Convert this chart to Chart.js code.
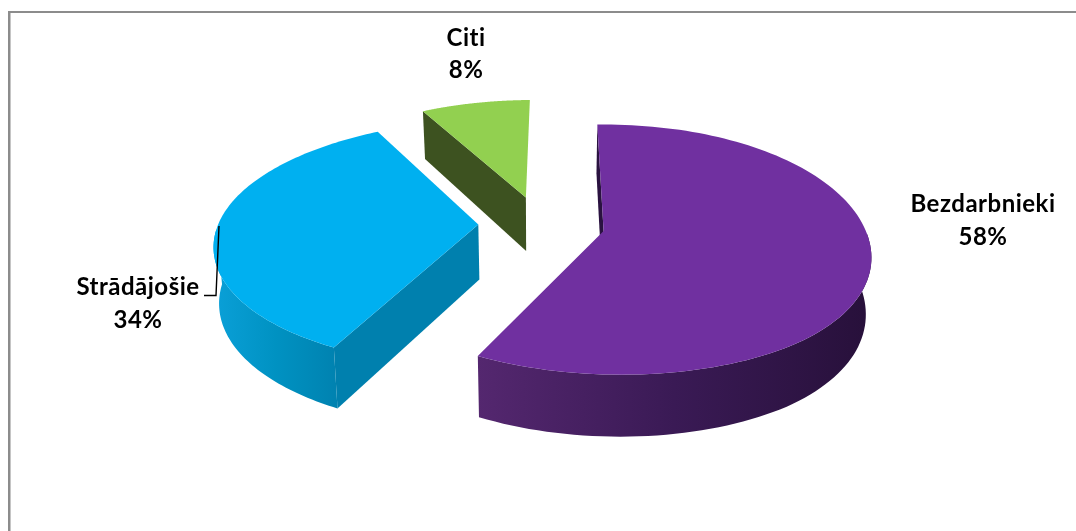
<!DOCTYPE html>
<html><head><meta charset="utf-8">
<style>html,body{margin:0;padding:0;background:#fff}canvas{display:block}</style>
<script src="https://cdn.jsdelivr.net/npm/chart.js@4/dist/chart.umd.min.js"></script>
</head><body><canvas id="c" width="1076" height="531"></canvas>
<script>
const categories = ["Bezdarbnieki", "Strādājošie", "Citi"];
const shares = [58, 34, 8];
const shareLabels = ["58%", "34%", "8%"];
const explode = [58, 57, 55];
const topColors = ["#7030A0", "#00B0F0", "#92D050"];
const faceColors = ["#2A1240", "#0080AE", "#3D5220"];
const wallStops = [
  ["#54276F", "#3A1A55", "#27103A"],
  ["#0AA0D8", "#0092C2", "#0082B0"],
  ["#5A7A30", "#4A6528", "#3D5220"]
];
const labelAnchors = [[983, 212, 245], [138, 295, 328], [466, 46, 78]];
const FONT = 'bold 24px Lato, "Open Sans", sans-serif';

// oblique-perspective view of the pie's plane
const view = {X0: 541, Y0: 224, A: 260, B: 123, px: 0.155, pyBack: 0.175, pyFront: 0.13, e: 8, D: 55, dk: 0.12, shrink: 0.017};
function project(u, v, z) {
  const py = v < 0 ? view.pyBack : view.pyFront;
  const x = view.X0 + view.A * u / (1 - view.px * v) * (1 - view.shrink * z) + view.e * Math.min(v * v, 0.77);
  const y = view.Y0 + view.B * v / (1 - py * v) + z * view.D * (1 + view.dk * v);
  return [x, y];
}
function trace(ctx, pts) {
  ctx.beginPath();
  pts.forEach((p, i) => i ? ctx.lineTo(p[0], p[1]) : ctx.moveTo(p[0], p[1]));
  ctx.closePath();
}
const pie3d = {
  id: 'pie3d',
  beforeDatasetDraw(chart, args) {
    const ctx = chart.ctx, arcs = chart.getDatasetMeta(args.index).data;
    for (let i = arcs.length - 1; i >= 0; i--) {
      const a = arcs[i], R = a.outerRadius, off = a.options.offset / R;
      const mid = (a.startAngle + a.endAngle) / 2;
      const cu = Math.cos(mid) * off, cv = Math.sin(mid) * off;
      const N = 120, rim = [], front = [];
      for (let k = 0; k <= N; k++) {
        const t = a.startAngle + (a.endAngle - a.startAngle) * k / N;
        rim.push([cu + Math.cos(t), cv + Math.sin(t)]);
        if (Math.sin(t) > 0.02) front.push(rim[k]);
      }
      const top = rim.map(p => project(p[0], p[1], 0));
      const bot = rim.map(p => project(p[0], p[1], 1));
      const apexT = project(cu, cv, 0), apexB = project(cu, cv, 1);
      // cut faces, only where they turn toward the viewer
      ctx.fillStyle = faceColors[i];
      if (-Math.cos(a.startAngle) > 0) { trace(ctx, [apexT, top[0], bot[0], apexB]); ctx.fill(); }
      if (Math.cos(a.endAngle) > 0) { trace(ctx, [apexT, top[N], bot[N], apexB]); ctx.fill(); }
      // outer wall, only where it faces the viewer
      if (front.length > 1) {
        const ft = front.map(p => project(p[0], p[1], 0));
        const fb = front.map(p => project(p[0], p[1], 1));
        const xs = ft.concat(fb).map(p => p[0]);
        const g = ctx.createLinearGradient(Math.min(...xs), 0, Math.max(...xs), 0);
        g.addColorStop(0, wallStops[i][0]); g.addColorStop(0.5, wallStops[i][1]); g.addColorStop(1, wallStops[i][2]);
        ctx.fillStyle = g;
        trace(ctx, ft.concat(fb.slice().reverse())); ctx.fill();
      }
      // top face
      ctx.fillStyle = topColors[i];
      trace(ctx, [apexT].concat(top)); ctx.fill();
    }
    return false;
  },
  afterDraw(chart) {
    const ctx = chart.ctx;
    // chart frame: top and left only
    ctx.save();
    ctx.fillStyle = '#8c8c8c';
    ctx.fillRect(8, 11, 1068, 2);
    ctx.fillRect(8, 11, 2.5, 520);
    // leader line
    ctx.strokeStyle = '#000'; ctx.lineWidth = 1.4;
    ctx.beginPath(); ctx.moveTo(204, 295.5); ctx.lineTo(216, 295.5); ctx.lineTo(219, 226); ctx.stroke();
    // labels
    ctx.fillStyle = '#000'; ctx.font = FONT; ctx.textAlign = 'center'; ctx.textBaseline = 'alphabetic';
    ctx.letterSpacing = '0.5px';
    categories.forEach((c, i) => {
      const [x, y1, y2] = labelAnchors[i];
      ctx.fillText(c, x, y1);
      ctx.fillText(shareLabels[i], x, y2);
    });
    ctx.restore();
  }
};
new Chart(document.getElementById('c'), {
  type: 'pie',
  data: {labels: categories, datasets: [{data: shares, backgroundColor: topColors, borderWidth: 0, offset: explode}]},
  options: {
    responsive: false, animation: false, rotation: -1,
    events: [], plugins: {legend: {display: false}, tooltip: {enabled: false}}
  },
  plugins: [pie3d]
});
</script></body></html>
